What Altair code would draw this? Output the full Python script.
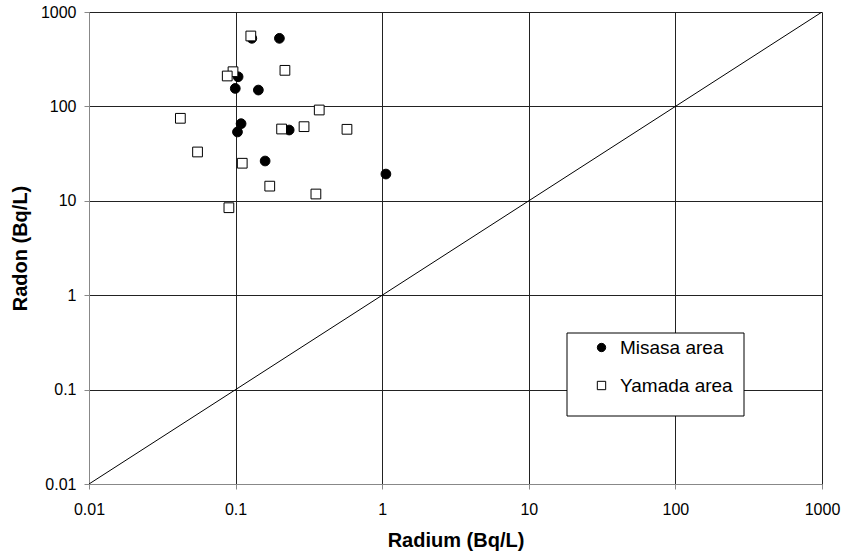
import altair as alt
import pandas as pd

# Data
misasa_radium = [0.129, 0.199, 0.104, 0.0995, 0.143, 0.109, 0.103, 0.232, 0.159, 1.06]
misasa_radon = [526, 526, 206, 155, 149, 65.6, 53.6, 56.2, 26.4, 19.2]
yamada_radium = [0.127, 0.096, 0.0877, 0.217, 0.372, 0.042, 0.206, 0.293, 0.575, 0.055, 0.111, 0.171, 0.353, 0.090]
yamada_radon = [557, 233, 210, 241, 91.6, 74.8, 57.6, 61, 57.2, 32.9, 25, 14.3, 11.8, 8.45]
series_names = ["Misasa area", "Yamada area"]
tick_values = [0.01, 0.1, 1, 10, 100, 1000]
diag_values = [0.01, 1000]

pts = pd.DataFrame({
    "radium": misasa_radium + yamada_radium,
    "radon": misasa_radon + yamada_radon,
    "area": [series_names[0]] * len(misasa_radium) + [series_names[1]] * len(yamada_radium),
})
diag = pd.DataFrame({"radium": diag_values, "radon": diag_values})

FONT = "Liberation Sans"
W, H = 733, 472

xscale = alt.Scale(type="log", domain=[0.01, 1000], nice=False)
yscale = alt.Scale(type="log", domain=[0.01, 1000], nice=False)

xaxis = alt.Axis(values=tick_values, format="~g", title="Radium (Bq/L)",
                 grid=True, gridColor="#222", gridWidth=1,
                 domainColor="#888", tickColor="#888", tickSize=5,
                 labelFont=FONT, labelFontSize=16, labelColor="black", labelPadding=12,
                 titleFont=FONT, titleFontSize=20, titleFontWeight="bold", titleColor="black",
                 titlePadding=13, labelFlush=False)
yaxis = alt.Axis(values=tick_values, format="~g", title="Radon (Bq/L)",
                 grid=True, gridColor="#222", gridWidth=1,
                 domainColor="#888", tickColor="#888", tickSize=5,
                 labelFont=FONT, labelFontSize=16, labelColor="black", labelPadding=8,
                 titleFont=FONT, titleFontSize=20, titleFontWeight="bold", titleColor="black",
                 titlePadding=10, labelFlush=False)

line = alt.Chart(diag).mark_line(color="black", strokeWidth=1, clip=True).encode(
    x=alt.X("radium:Q", scale=xscale, axis=xaxis),
    y=alt.Y("radon:Q", scale=yscale, axis=yaxis),
)

box = alt.Chart(pd.DataFrame({"a": [0]})).mark_rect(
    fill="white", stroke="black", strokeWidth=1
).encode(
    x=alt.value(478), x2=alt.value(655), y=alt.value(321), y2=alt.value(404)
)

legend = alt.Legend(title=None, orient="none", legendX=503, legendY=326,
                    labelFont=FONT, labelFontSize=19, labelColor="black",
                    labelOffset=9, rowPadding=18, symbolSize=70,
                    symbolStrokeColor="black", symbolStrokeWidth=1, padding=0)

points = alt.Chart(pts).mark_point(
    strokeWidth=1, opacity=1, fillOpacity=1, size=95
).encode(
    x=alt.X("radium:Q", scale=xscale),
    y=alt.Y("radon:Q", scale=yscale),
    fill=alt.Fill("area:N", scale=alt.Scale(domain=series_names, range=["black", "white"]), legend=legend),
    stroke=alt.Stroke("area:N", scale=alt.Scale(domain=series_names, range=["black", "black"]), legend=legend),
    shape=alt.Shape("area:N", scale=alt.Scale(domain=series_names, range=["circle", "square"]), legend=legend),
)

chart = alt.layer(line, box, points).properties(
    width=W, height=H,
    autosize=alt.AutoSizeParams(type="none"),
    padding={"left": 89, "top": 12, "right": 19, "bottom": 72},
).configure_view(stroke=None).configure(background="white")

chart.save("out.html", embed_options={"renderer": "svg", "actions": False})
